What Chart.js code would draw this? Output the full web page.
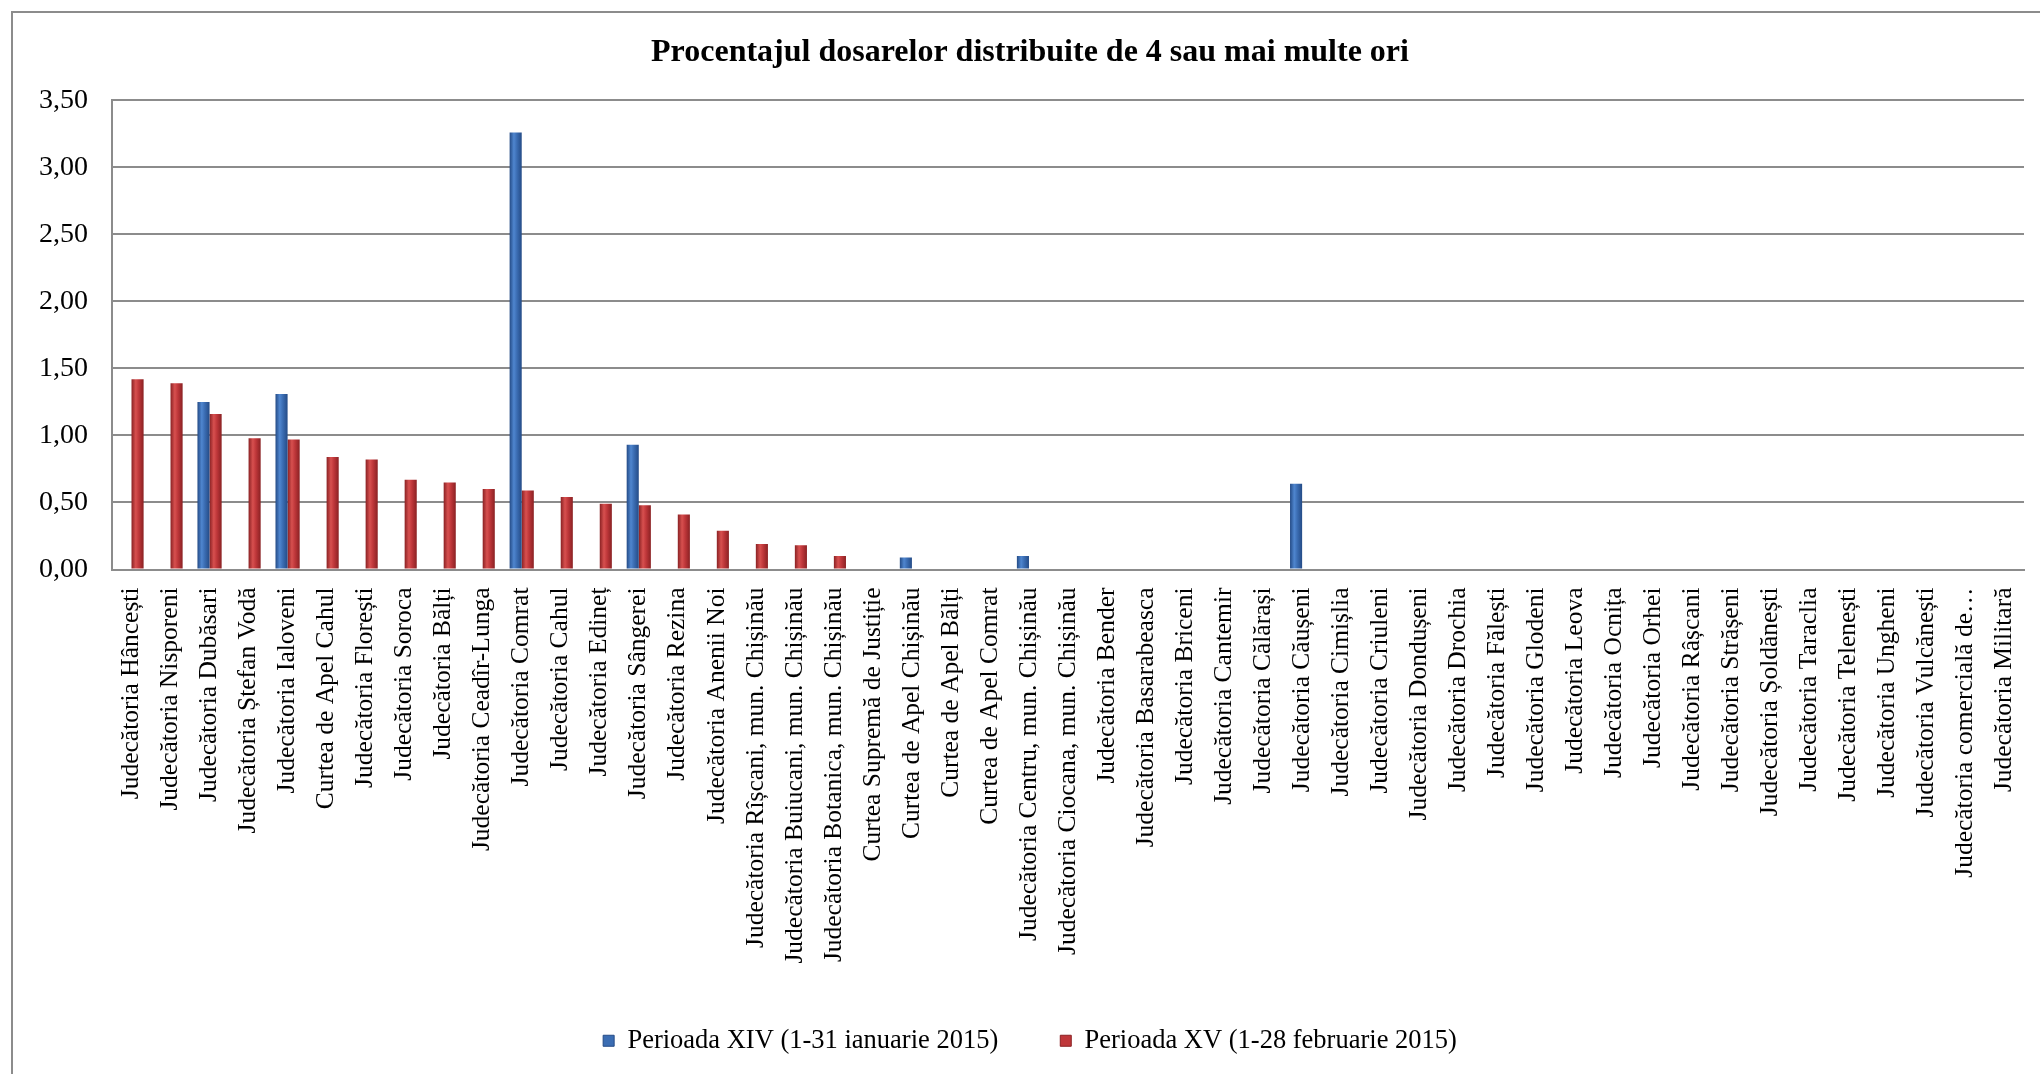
<!DOCTYPE html>
<html>
<head>
<meta charset="utf-8">
<script src="https://cdn.jsdelivr.net/npm/chart.js@4/dist/chart.umd.min.js"></script>
<style>
  html, body { margin: 0; padding: 0; background: #fff; overflow: hidden; width: 2040px; height: 1074px; }
  #frame { position: absolute; left: 11px; top: 11px; width: 2100px; height: 1100px; border: 2px solid #8c8c8c; }
  #wrap { position: absolute; left: 0; top: 0; width: 2064px; height: 1074px; }
</style>
</head>
<body>
<div id="frame"></div>
<div id="wrap"><canvas id="dosareChart"></canvas></div>
<script>
const categories = [
    'Judecătoria Hâncești', 'Judecătoria Nisporeni', 'Judecătoria Dubăsari', 'Judecătoria Ștefan Vodă',
    'Judecătoria Ialoveni', 'Curtea de Apel Cahul', 'Judecătoria Florești', 'Judecătoria Soroca',
    'Judecătoria Bălți', 'Judecătoria Ceadîr-Lunga', 'Judecătoria Comrat', 'Judecătoria Cahul',
    'Judecătoria Edineț', 'Judecătoria Sângerei', 'Judecătoria Rezina', 'Judecătoria Anenii Noi',
    'Judecătoria Rîșcani, mun. Chișinău', 'Judecătoria Buiucani, mun. Chișinău', 'Judecătoria Botanica, mun. Chișinău',
    'Curtea Supremă de Justiție', 'Curtea de Apel Chișinău', 'Curtea de Apel Bălți', 'Curtea de Apel Comrat',
    'Judecătoria Centru, mun. Chișinău', 'Judecătoria Ciocana, mun. Chișinău', 'Judecătoria Bender',
    'Judecătoria Basarabeasca', 'Judecătoria Briceni', 'Judecătoria Cantemir', 'Judecătoria Călărași',
    'Judecătoria Căușeni', 'Judecătoria Cimișlia', 'Judecătoria Criuleni', 'Judecătoria Dondușeni',
    'Judecătoria Drochia', 'Judecătoria Fălești', 'Judecătoria Glodeni', 'Judecătoria Leova',
    'Judecătoria Ocnița', 'Judecătoria Orhei', 'Judecătoria Râșcani', 'Judecătoria Strășeni',
    'Judecătoria Șoldănești', 'Judecătoria Taraclia', 'Judecătoria Telenești', 'Judecătoria Ungheni',
    'Judecătoria Vulcănești', 'Judecătoria comercială de…', 'Judecătoria Militară'
];

// Perioada XIV (1-31 ianuarie 2015)
const periodXIV = [
    0, 0, 1.25, 0, 1.31, 0, 0, 0, 0, 0, 3.26, 0, 0, 0.93, 0, 0,
    0, 0, 0, 0, 0.09, 0, 0, 0.10, 0, 0, 0, 0, 0, 0, 0.64, 0,
    0, 0, 0, 0, 0, 0, 0, 0, 0, 0, 0, 0, 0, 0, 0, 0, 0
];

// Perioada XV (1-28 februarie 2015)
const periodXV = [
    1.42, 1.39, 1.16, 0.98, 0.97, 0.84, 0.82, 0.67, 0.65, 0.60, 0.59, 0.54, 0.49, 0.48, 0.41, 0.29,
    0.19, 0.18, 0.10, 0, 0, 0, 0, 0, 0, 0, 0, 0, 0, 0, 0, 0,
    0, 0, 0, 0, 0, 0, 0, 0, 0, 0, 0, 0, 0, 0, 0, 0, 0
];

const yTicks = [0, 0.5, 1, 1.5, 2, 2.5, 3, 3.5];

const serif = "'Liberation Serif', 'Times New Roman', serif";
const gridGray = '#8c8c8c';
const catPct = 0.62;
const padLeft = 36;

// cylinder-like shading across each bar
function barFill(dark, mid, light, side) {
    return context => {
        const chart = context.chart;
        const xs = chart.scales.x;
        if (!xs || context.dataIndex === undefined) return mid;
        const step = (xs.right - xs.left) / categories.length;
        const w = step * catPct / 2;
        const c = xs.getPixelForValue(context.dataIndex) + side * w / 2;
        const g = chart.ctx.createLinearGradient(c - w / 2, 0, c + w / 2, 0);
        g.addColorStop(0, dark);
        g.addColorStop(0.35, light);
        g.addColorStop(0.6, mid);
        g.addColorStop(1, dark);
        return g;
    };
}

const ctx = document.getElementById('dosareChart').getContext('2d');
const chart = new Chart(ctx, {
    type: 'bar',
    data: {
        labels: categories,
        datasets: [{
            label: 'Perioada XIV (1-31 ianuarie 2015)',
            data: periodXIV,
            backgroundColor: barFill('#244b86', '#3b6db3', '#4f86cf', -1),
            borderWidth: 0
        }, {
            label: 'Perioada XV (1-28 februarie 2015)',
            data: periodXV,
            backgroundColor: barFill('#8a2123', '#bf373a', '#d7504f', 1),
            borderWidth: 0
        }]
    },
    options: {
        responsive: true,
        maintainAspectRatio: false,
        animation: false,
        categoryPercentage: catPct,
        barPercentage: 1.0,
        layout: { padding: { left: padLeft, right: 40, top: 0, bottom: 10 } },
        plugins: {
            title: {
                display: true,
                text: 'Procentajul dosarelor distribuite de 4 sau mai multe ori',
                color: '#000',
                font: { family: serif, size: 32, weight: 'bold' },
                padding: { top: 34, bottom: 28 }
            },
            legend: {
                position: 'bottom',
                labels: {
                    color: '#000',
                    font: { family: serif, size: 26.5 },
                    boxWidth: 11,
                    boxHeight: 11,
                    padding: 62,
                    generateLabels: c => c.data.datasets.map((ds, i) => ({
                        text: ds.label,
                        fillStyle: i === 0 ? '#3b6db3' : '#bf373a',
                        strokeStyle: i === 0 ? '#244b86' : '#8a2123',
                        lineWidth: 1,
                        fontColor: '#000',
                        datasetIndex: i
                    }))
                }
            },
            tooltip: { enabled: false }
        },
        scales: {
            x: {
                grid: { display: false, drawTicks: false },
                border: { display: true, color: gridGray, width: 2 },
                ticks: {
                    color: '#000',
                    font: { family: serif, size: 25.5 },
                    autoSkip: false,
                    minRotation: 90,
                    maxRotation: 90,
                    padding: 18
                },
                afterFit: scale => { scale.height = 396; }
            },
            y: {
                min: 0,
                max: 3.5,
                grid: { color: gridGray, lineWidth: 2, drawTicks: false },
                border: { display: true, color: gridGray, width: 2 },
                afterBuildTicks: scale => { scale.ticks = yTicks.map(v => ({ value: v })); },
                ticks: {
                    color: '#000',
                    font: { family: serif, size: 28 },
                    padding: 24,
                    callback: v => v.toFixed(2).replace('.', ',')
                },
                afterFit: scale => { scale.width = 112 - padLeft; }
            }
        }
    }
});
</script>
</body>
</html>
